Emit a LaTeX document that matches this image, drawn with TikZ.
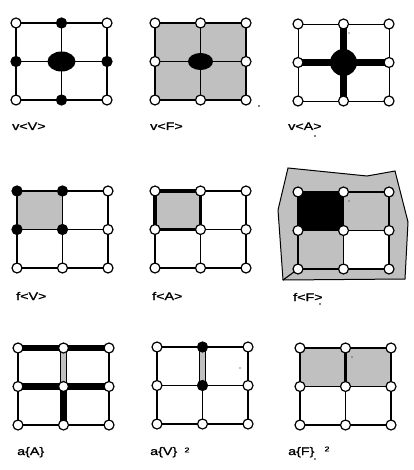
\documentclass[tikz,border=0pt]{standalone}
\usepackage{fontspec}
\newfontfamily\labelfont[FakeStretch=1.3,FakeBold=1.2]{Liberation Sans}
\usetikzlibrary{shapes.geometric}
\definecolor{cellgray}{RGB}{192,192,192}
\tikzset{
  gridline/.style={line width=1.1pt, draw=black},
  openv/.style={circle, draw=black, fill=white, line width=1.2pt, minimum size=10pt, inner sep=0pt},
  fullv/.style={openv, fill=black},
  bigv/.style={ellipse, fill=black, minimum width=28pt, minimum height=20pt, inner sep=0pt},
  midv/.style={bigv, minimum width=25pt, minimum height=17pt},
  hubv/.style={circle, fill=black, minimum size=27pt, inner sep=0pt},
  thickbar/.style={line width=6.5pt, draw=black},
  graybar/.style={draw=black, line width=0.8pt, double=cellgray, double distance=5pt},
  cellfill/.style={fill=cellgray},
  plabel/.style={anchor=base west, font=\labelfont\fontsize{11}{13}\selectfont, inner sep=0pt},
  suplabel/.style={font=\labelfont\fontsize{7}{8}\selectfont, inner sep=0pt},
  speck/.style={circle, fill=black, inner sep=0pt, minimum size=1.8pt},
}
% 3x3 vertex coordinates of one panel: name, left x, top y
\newcommand{\gridpts}[3]{%
  \foreach \i in {0,1,2}{\foreach \j in {0,1,2}{%
    \coordinate (#1-\i\j) at ({#2+\i*45.5},{#3+\j*38.5});}}}
\newcommand{\gridlines}[1]{%
  \draw[gridline] (#1-00) rectangle (#1-22) (#1-10) -- (#1-12) (#1-01) -- (#1-21);}
\begin{document}
\begin{tikzpicture}[x=1pt, y=-1pt]
\useasboundingbox (0,0) rectangle (413,470);

% ============================ row 1: v<..> ============================
\gridpts{vV}{16}{23}
\draw[gridline] (vV-00) rectangle (vV-22);
\draw[gridline, line width=1.7pt] (vV-10) -- (vV-12) (vV-01) -- (vV-21);
\foreach \k in {00,20,02,22} \node[openv] (vV-n\k) at (vV-\k) {};
\foreach \k in {10,01,21,12} \node[fullv] (vV-n\k) at (vV-\k) {};
\node[bigv] (vV-n11) at (vV-11) {};
\node[plabel] (vV-lab) at (12,130) {v<V>};

\gridpts{vF}{155}{23}
\fill[cellfill] (vF-00) rectangle (vF-22);
\gridlines{vF}
\foreach \k in {00,10,20,01,21,02,12,22} \node[openv] (vF-n\k) at (vF-\k) {};
\node[midv] (vF-n11) at (vF-11) {};
\node[plabel] (vF-lab) at (150,130) {v<F>};
\node[speck] (vF-dot) at (259,106) {};

\gridpts{vA}{298}{24}
\draw[gridline, line width=0.8pt] (vA-00) rectangle (vA-22);
\draw[thickbar, line width=7.5pt] (vA-10) -- (vA-12);
\draw[thickbar] (vA-01) -- (vA-21);
\foreach \k in {00,10,20,01,21,02,12,22} \node[openv] (vA-n\k) at (vA-\k) {};
\node[hubv] (vA-n11) at (vA-11) {};
\node[plabel] (vA-lab) at (288,130) {v<A>};
\node[speck] (vA-dot) at (315,136) {};
\node[speck, minimum size=1.2pt] (vA-mark) at (349,33) {};

% ============================ row 2: f<..> ============================
\gridpts{fV}{17}{191}
\fill[cellfill] (fV-00) rectangle (fV-11);
\gridlines{fV}
\foreach \k in {00,10,01,11} \node[fullv] (fV-n\k) at (fV-\k) {};
\foreach \k in {20,21,02,12,22} \node[openv] (fV-n\k) at (fV-\k) {};
\node[plabel] (fV-lab) at (16,300) {f<V>};

\gridpts{fA}{155}{191}
\fill[cellfill] (fA-00) rectangle (fA-11);
\gridlines{fA}
\draw[line width=3.5pt] (fA-00) rectangle (fA-11);
\draw[line width=1.8pt] (fA-11) -- (fA-12);
\foreach \k in {00,10,20,01,11,21,02,12,22} \node[openv] (fA-n\k) at (fA-\k) {};
\node[plabel] (fA-lab) at (152,300) {f<A>};

\gridpts{fF}{298}{192}
\coordinate (fF-corner) at (283,280);
\filldraw[fill=cellgray, draw=black, line width=1pt]
  (288,168) -- (367,176) -- (395,171) -- (408,222) -- (405,279) -- (fF-corner) -- (278,210) -- cycle;
\draw[gridline] (fF-corner) -- (fF-02);
\fill[black] (fF-00) rectangle (fF-11);
\fill[white] (fF-11) rectangle (fF-22);
\gridlines{fF}
\foreach \k in {00,10,20,01,11,21,02,12,22} \node[openv] (fF-n\k) at (fF-\k) {};
\node[plabel] (fF-lab) at (293,301) {f<F>};
\node[speck] (fF-dot) at (320,304) {};
\node[speck, minimum size=1.2pt] (fF-mark) at (349,201) {};

% ============================ row 3: a{..} ============================
\gridpts{aA}{18}{348}
\gridlines{aA}
\draw[thickbar] (aA-00) -- (aA-20) (aA-01) -- (aA-21);
\draw[thickbar] (aA-11) -- (aA-12);
\draw[graybar] (aA-10) -- (aA-11);
\foreach \k in {00,10,20,01,11,21,02,12,22} \node[openv] (aA-n\k) at (aA-\k) {};
\node[plabel] (aA-lab) at (17,455) {a\{A\}};

\gridpts{aV}{157}{347}
\gridlines{aV}
\draw[graybar] (aV-10) -- (aV-11);
\foreach \k in {10,11} \node[fullv] (aV-n\k) at (aV-\k) {};
\foreach \k in {00,20,01,21,02,12,22} \node[openv] (aV-n\k) at (aV-\k) {};
\node[plabel] (aV-lab) at (150,455) {a\{V\}};
\node[suplabel] (aV-sup) at (187,450) {2};
\node[speck, minimum size=1.2pt] (aV-mark) at (240,368) {};

\gridpts{aF}{300}{348}
\fill[cellfill] (aF-00) rectangle (aF-21);
\gridlines{aF}
\draw[line width=3.5pt] (aF-10) -- (aF-11);
\foreach \k in {00,10,20,01,11,21,02,12,22} \node[openv] (aF-n\k) at (aF-\k) {};
\node[plabel] (aF-lab) at (288,455) {a\{F\}};
\node[suplabel] (aF-com) at (315,459) {,};
\node[suplabel] (aF-sup) at (327,449) {2};
\node[speck, minimum size=1.2pt] (aF-mark) at (352,357) {};

\end{tikzpicture}
\end{document}
